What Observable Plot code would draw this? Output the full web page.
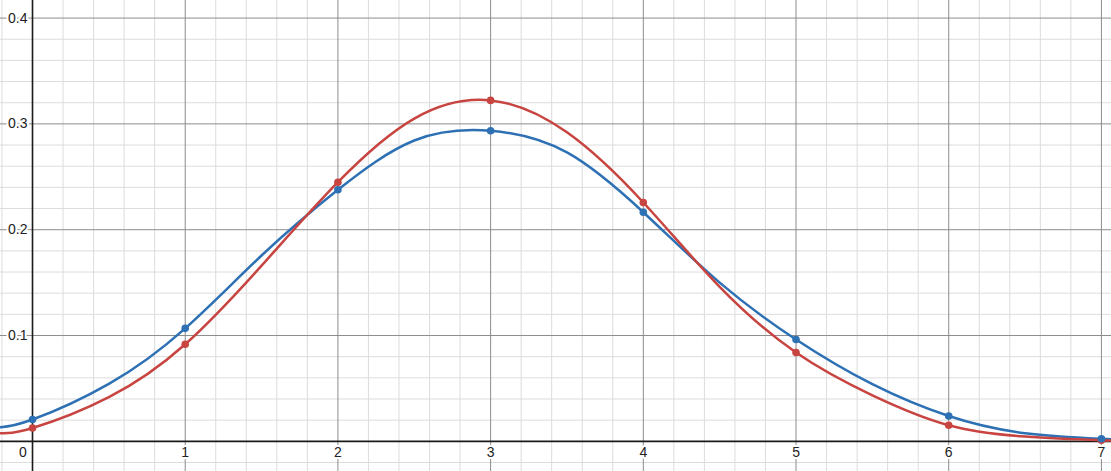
<!DOCTYPE html>
<html>
<head>
<meta charset="utf-8">
<script src="https://cdn.jsdelivr.net/npm/d3@7"></script>
<script src="https://cdn.jsdelivr.net/npm/@observablehq/plot@0.6"></script>
<style>
  html, body { margin: 0; padding: 0; background: #fff; }
  #chart svg { display: block; }
</style>
</head>
<body>
<div id="chart"></div>
<script>
// Discrete points (dots)
const ks = [0, 1, 2, 3, 4, 5, 6, 7];
const blueValues = [0.0206, 0.1068, 0.2377, 0.2935, 0.2165, 0.0962, 0.0239, 0.0024];
const redValues  = [0.0126, 0.0917, 0.2449, 0.3222, 0.2257, 0.0839, 0.0152, 0.0010];

// Smooth curve samples (including view edges)
const curveX    = [-0.21, 0, 0.5, 1, 1.5, 2, 2.5, 3, 3.5, 4, 4.5, 5, 5.5, 6, 6.5, 7, 7.07];
const blueCurve = [0.0133, 0.0206, 0.0543, 0.1068, 0.1756, 0.2377, 0.2843, 0.2935, 0.2730, 0.2165, 0.1500, 0.0962, 0.0540, 0.0239, 0.0077, 0.0024, 0.0018];
const redCurve  = [0.0077, 0.0126, 0.0417, 0.0917, 0.1660, 0.2449, 0.3050, 0.3222, 0.2920, 0.2257, 0.1460, 0.0839, 0.0435, 0.0152, 0.0045, 0.0010, 0.0007];

// Axis tick labels
const xTickValues = [1, 2, 3, 4, 5, 6, 7];
const xTickLabels = ["1", "2", "3", "4", "5", "6", "7"];
const yTickValues = [0.1, 0.2, 0.3, 0.4];
const yTickLabels = ["0.1", "0.2", "0.3", "0.4"];
const originLabel = "0";

const blue = "#2d70b3";
const red = "#c74440";

const xDomain = [-0.2096, 7.066];
const yDomain = [-0.0285, 0.4166];

const majorX = d3.range(0, 8, 1);
const majorY = d3.range(0.1, 0.41, 0.1);
const minorX = d3.range(-0.2, 7.1, 0.2).filter(v => Math.abs(v - Math.round(v)) > 1e-6);
const minorY = d3.range(-0.02, 0.42, 0.02).filter(v => Math.abs(v * 10 - Math.round(v * 10)) > 1e-6);

const blueDots = ks.map((k, i) => ({x: k, y: blueValues[i]}));
const redDots = ks.map((k, i) => ({x: k, y: redValues[i]}));
const blueLine = curveX.map((x, i) => ({x, y: blueCurve[i]}));
const redLine = curveX.map((x, i) => ({x, y: redCurve[i]}));
const xLabels = xTickValues.map((v, i) => ({x: v, label: xTickLabels[i]}));
const yLabels = yTickValues.map((v, i) => ({y: v, label: yTickLabels[i]}));

const chart = Plot.plot({
  width: 1111,
  height: 471,
  margin: 0,
  x: {domain: xDomain, axis: null},
  y: {domain: yDomain, axis: null},
  style: {background: "#fff", fontFamily: "'Liberation Sans', Arial, sans-serif"},
  marks: [
    Plot.ruleX(minorX, {stroke: "#dcdcdc", strokeWidth: 1}),
    Plot.ruleY(minorY, {stroke: "#dcdcdc", strokeWidth: 1}),
    Plot.ruleX(majorX, {stroke: "#8c8c8c", strokeWidth: 1}),
    Plot.ruleY(majorY, {stroke: "#8c8c8c", strokeWidth: 1}),
    Plot.ruleX([0], {stroke: "#1a1a1a", strokeWidth: 1.6}),
    Plot.ruleY([0], {stroke: "#1a1a1a", strokeWidth: 1.6}),
    Plot.line(blueLine, {x: "x", y: "y", stroke: blue, strokeWidth: 2.5, curve: "natural"}),
    Plot.line(redLine, {x: "x", y: "y", stroke: red, strokeWidth: 2.5, curve: "natural"}),
    Plot.dot(redDots, {x: "x", y: "y", r: 3.8, fill: red, stroke: "none"}),
    Plot.dot(blueDots, {x: "x", y: "y", r: 3.8, fill: blue, stroke: "none"}),
    Plot.text(xLabels, {x: "x", y: () => 0, dy: 11, text: "label", fontSize: 14, fill: "#222",
      stroke: "white", strokeWidth: 4, paintOrder: "stroke", textAnchor: "middle"}),
    Plot.text([originLabel], {x: () => 0, y: () => 0, dx: -9.5, dy: 11, text: d => d, fontSize: 14, fill: "#222",
      stroke: "white", strokeWidth: 4, paintOrder: "stroke", textAnchor: "middle"}),
    Plot.text(yLabels, {x: () => 0, y: "y", dx: -5, text: "label", fontSize: 14, fill: "#222",
      stroke: "white", strokeWidth: 4, paintOrder: "stroke", textAnchor: "end"})
  ]
});
document.getElementById("chart").appendChild(chart);
</script>
</body>
</html>
